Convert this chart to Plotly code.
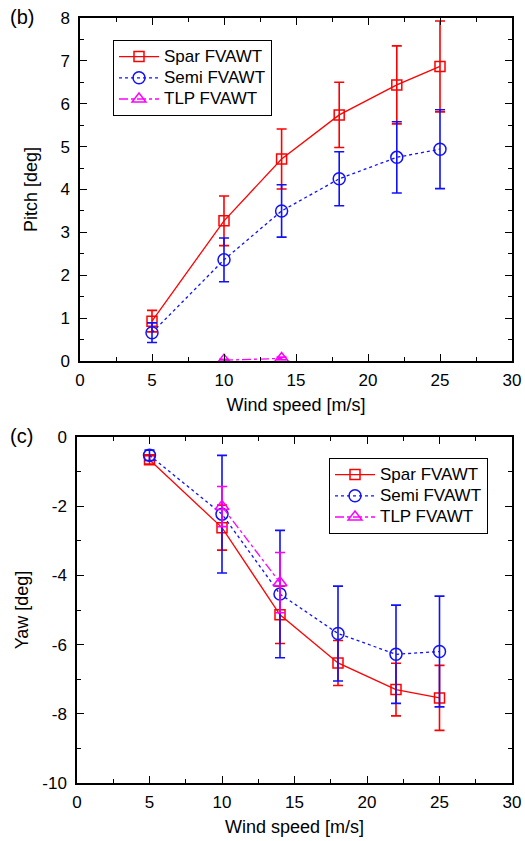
import plotly.graph_objects as go

wind = [5, 10, 14, 18, 22, 25]
wind_tlp = [10, 14]

pitch_spar = [0.93, 3.27, 4.71, 5.74, 6.44, 6.87]
pitch_spar_err = [0.25, 0.58, 0.70, 0.76, 0.91, 1.06]
pitch_semi = [0.66, 2.36, 3.50, 4.25, 4.75, 4.94]
pitch_semi_err = [0.23, 0.51, 0.61, 0.63, 0.83, 0.92]
pitch_tlp = [0.02, 0.06]
pitch_tlp_err = [0.02, 0.03]

yaw_spar = [-0.66, -2.62, -5.14, -6.53, -7.30, -7.54]
yaw_spar_err = [0.12, 0.65, 0.83, 0.65, 0.76, 0.94]
yaw_semi = [-0.53, -2.23, -4.54, -5.68, -6.28, -6.20]
yaw_semi_err = [0.15, 1.70, 1.84, 1.37, 1.42, 1.60]
yaw_tlp = [-2.01, -4.21]
yaw_tlp_err = [0.58, 0.87]

x_ticks = [0, 5, 10, 15, 20, 25, 30]
pitch_ticks = [0, 1, 2, 3, 4, 5, 6, 7, 8]
yaw_ticks = [-10, -8, -6, -4, -2, 0]

names = ["Spar FVAWT", "Semi FVAWT", "TLP FVAWT"]
colors = ["#ff0000", "#1010ff", "#ff00ff"]
symbols = ["square-open", "circle-open", "triangle-up-open"]
dashes = ["solid", "dot", "dashdot"]
msize = [10, 12, 12]

fig = go.Figure()

series_top = [(wind, pitch_spar, pitch_spar_err), (wind, pitch_semi, pitch_semi_err), (wind_tlp, pitch_tlp, pitch_tlp_err)]
series_bot = [(wind, yaw_spar, yaw_spar_err), (wind, yaw_semi, yaw_semi_err), (wind_tlp, yaw_tlp, yaw_tlp_err)]

def label(n):
    return '<span style="font-size:17px">' + n + '</span>'

for i, (x, y, e) in enumerate(series_top):
    fig.add_trace(go.Scatter(
        x=x, y=y, name=label(names[i]), mode="lines+markers",
        line=dict(color=colors[i], width=1.3, dash=dashes[i]),
        marker=dict(symbol=symbols[i], size=msize[i], color=colors[i], line=dict(width=1.5, color=colors[i])),
        error_y=dict(type="data", array=e, visible=True, color=colors[i], thickness=1.6, width=5),
        xaxis="x", yaxis="y", legend="legend"))

for i, (x, y, e) in enumerate(series_bot):
    fig.add_trace(go.Scatter(
        x=x, y=y, name=label(names[i]), mode="lines+markers",
        line=dict(color=colors[i], width=1.3, dash=dashes[i]),
        marker=dict(symbol=symbols[i], size=msize[i], color=colors[i], line=dict(width=1.5, color=colors[i])),
        error_y=dict(type="data", array=e, visible=True, color=colors[i], thickness=1.6, width=5),
        xaxis="x2", yaxis="y2", legend="legend2"))

W, H = 525, 841
def px(v):
    return v / W
def py(v):
    return 1 - v / H

FAM = "Liberation Sans, Arial, sans-serif"
font = dict(family=FAM, size=17, color="black")
tfont = dict(family=FAM, size=18, color="black")
lfont = dict(family=FAM, size=14, color="black")

def xax(dom, anchor):
    return dict(domain=dom, anchor=anchor, range=[0, 30], tickvals=x_ticks,
                ticktext=[str(v) for v in x_ticks],
                ticks="inside", ticklen=7, tickwidth=1, tickcolor="black",
                minor=dict(ticks="inside", ticklen=4, dtick=2.5, tickcolor="black"),
                showline=True, linecolor="black", linewidth=1.5, mirror="ticks",
                showgrid=False, zeroline=False, tickfont=font, automargin=False,
                ticklabelstandoff=3,
                title=dict(text="Wind speed [m/s]", font=tfont, standoff=9))

def yax(dom, anchor, rng, tv, mdtick, title, standoff):
    return dict(domain=dom, anchor=anchor, range=rng, tickvals=tv,
                ticktext=[str(v) for v in tv],
                ticks="inside", ticklen=7, tickwidth=1, tickcolor="black",
                minor=dict(ticks="inside", ticklen=4, dtick=mdtick, tickcolor="black"),
                showline=True, linecolor="black", linewidth=1.5, mirror="ticks",
                showgrid=False, zeroline=False, tickfont=font, automargin=False,
                ticklabelstandoff=5,
                title=dict(text=title, font=tfont, standoff=standoff))

fig.update_layout(
    width=W, height=H, margin=dict(l=0, r=0, t=0, b=0, autoexpand=False),
    paper_bgcolor="white", plot_bgcolor="white", font=font,
    xaxis=xax([px(80), px(512)], "y"),
    yaxis=yax([py(361), py(18)], "x", [0, 8], pitch_ticks, 0.5, "Pitch [deg]", 18),
    xaxis2=xax([px(77), px(512)], "y2"),
    yaxis2=yax([py(783), py(437)], "x2", [-10, 0], yaw_ticks, 1, "Yaw [deg]", 9),
    legend=dict(x=px(113), y=py(40), xanchor="left", yanchor="top",
                bordercolor="black", borderwidth=1, bgcolor="white", font=lfont,
                tracegroupgap=0, itemwidth=40),
    legend2=dict(x=px(329), y=py(458), xanchor="left", yanchor="top",
                 bordercolor="black", borderwidth=1, bgcolor="white", font=lfont,
                 tracegroupgap=0, itemwidth=40),
    annotations=[
        dict(text="(b)", x=px(8), y=py(17), xref="paper", yref="paper", xanchor="left", yanchor="middle",
             showarrow=False, font=dict(family=FAM, size=20, color="black")),
        dict(text="(c)", x=px(8), y=py(436), xref="paper", yref="paper", xanchor="left", yanchor="middle",
             showarrow=False, font=dict(family=FAM, size=20, color="black")),
    ],
)

fig.write_html("out.html", config={"displayModeBar": False},
               post_script="document.body.style.margin='0';document.body.style.overflow='hidden';")
